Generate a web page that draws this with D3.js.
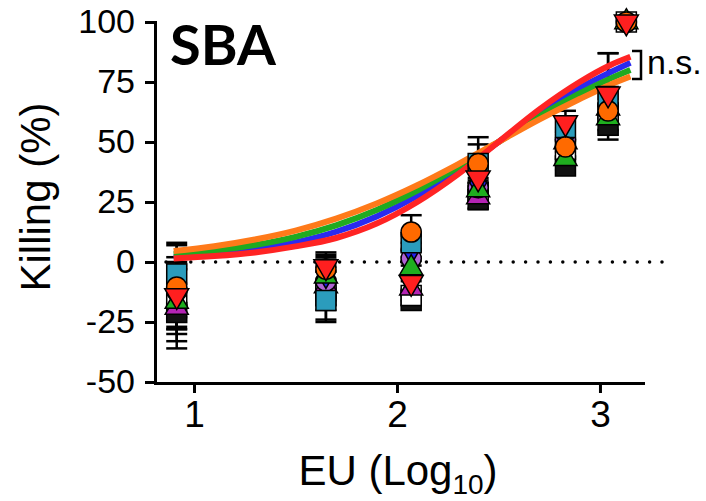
<!DOCTYPE html>
<html>
<head>
<meta charset="utf-8">
<script src="https://cdn.jsdelivr.net/npm/d3@7"></script>
<style>
  body { margin: 0; background: #fff; }
  svg { display: block; }
  text { font-family: "Liberation Sans", Arial, sans-serif; fill: #000; }
</style>
</head>
<body>
<div id="chart"></div>
<script>
var width = 706;
var height = 501;

// log10 EU of each column of points
var doseCols = [0.915, 1.65, 2.07, 2.40, 2.83, 3.04];
var topDose = 3.13;

// mean killing (%) and SEM per series, one entry per column
var tealVals = [-5, -16, 8, 41, 56, 69];
var tealErr = [13, 9, 3, 11, 4, 18];
var orangeVals = [-10.5, -3, 12.5, 41, 48, 63];
var orangeErr = [17.5, 6, 7, 8, 6, 8];
var redVals = [-14, -2, -8.5, 35, 58, 70];
var redErr = [14, 6, 3, 6, 5, 17];
var greenVals = [-16.5, -6, -2.5, 30, 43, 60];
var greenErr = [13.5, 8, 3, 4, 3, 5];
var magentaVals = [-19, -10, -11, 27, 50, 64];
var magentaErr = [17, 8, 3, 4.5, 4, 4];
var blueVals = [-8, -5, 5, 33, 52, 66];
var blueErr = [10, 6, 3, 4, 4, 4];
var lavenderVals = [-12, -8, 1.5, 31, 51, 65];
var lavenderErr = [11, 7, 3, 4, 4, 4];
var whiteVals = [-15, -12, -14, 29, 47, 62];
var whiteErr = [12, 8, 2, 4, 4, 4];
var blackVals = [-21, -14, -16, 26, 40, 57];
var blackErr = [12, 10, 2, 4, 1.5, 3];

// points sitting at 100 % on the far right
var topSeries = ["white", "green", "orange", "red"];
var topVal = 100;

// fitted curves
var curveDose = [0.9, 1.1, 1.3, 1.5, 1.7, 1.9, 2.1, 2.3, 2.5, 2.7, 2.9, 3.05, 3.15];
var redFit = [1.5, 2.5, 4, 6.5, 10, 16, 25, 36.5, 50, 63.5, 75, 82, 85.5];
var blueFit = [2, 3.3, 5.2, 8.2, 12.6, 19, 27.5, 38, 50, 62, 72.5, 79, 83];
var greenFit = [3.2, 4.8, 7.1, 10.5, 15.3, 21.7, 29.8, 39.4, 50, 60.6, 70.2, 76.4, 80];
var orangeFit = [4.6, 6.6, 9.4, 13.1, 18.1, 24.4, 32, 40.7, 50, 59.3, 67.9, 73.9, 77.3];

var yTicks = [-50, -25, 0, 25, 50, 75, 100];
var xTicks = [1, 2, 3];

var colors = {
    teal: "#2b9cbc",
    orange: "#ff6a00",
    red: "#ff1f1f",
    green: "#1fae1f",
    magenta: "#b424b4",
    blue: "#2222ee",
    lavender: "#b064d4",
    white: "#ffffff",
    black: "#111111"
};
var fitColors = { red: "#ff2424", blue: "#2a2af0", green: "#20aa20", orange: "#ff7a1a" };

// series in drawing order (last drawn on top)
var series = [
    { name: "black", shape: "square", vals: blackVals, err: blackErr },
    { name: "white", shape: "square", vals: whiteVals, err: whiteErr },
    { name: "magenta", shape: "up", vals: magentaVals, err: magentaErr },
    { name: "lavender", shape: "circle", vals: lavenderVals, err: lavenderErr },
    { name: "blue", shape: "diamond", vals: blueVals, err: blueErr },
    { name: "green", shape: "up", vals: greenVals, err: greenErr },
    { name: "teal", shape: "square", vals: tealVals, err: tealErr },
    { name: "orange", shape: "circle", vals: orangeVals, err: orangeErr },
    { name: "red", shape: "down", vals: redVals, err: redErr }
];

var xScale = d3.scaleLinear().domain([0.808, 3.212]).range([155, 643]);
var yScale = d3.scaleLinear().domain([-50, 100]).range([382, 22]);

var svg = d3.select("#chart")
    .append("svg")
    .attr("width", width)
    .attr("height", height);

// dotted zero line
svg.append("line")
    .attr("x1", 166).attr("x2", 666)
    .attr("y1", yScale(0)).attr("y2", yScale(0))
    .attr("stroke", "#000")
    .attr("stroke-width", 3.5)
    .attr("stroke-linecap", "round")
    .attr("stroke-dasharray", "0 12.4");

// flatten points
var points = [];
series.forEach(function(s) {
    s.vals.forEach(function(v, i) {
        points.push({ name: s.name, shape: s.shape, x: doseCols[i], y: v, e: s.err[i] });
    });
});
series.forEach(function(s) {
    if (topSeries.indexOf(s.name) >= 0) {
        points.push({ name: s.name, shape: s.shape, x: topDose, y: topVal, e: 0 });
    }
});

// error bars behind everything
var bars = svg.append("g").selectAll("g")
    .data(points.filter(function(d) { return d.e > 0; }))
    .enter().append("g")
    .attr("stroke", "#000")
    .attr("stroke-width", 2.5);
bars.append("line")
    .attr("x1", function(d) { return xScale(d.x); })
    .attr("x2", function(d) { return xScale(d.x); })
    .attr("y1", function(d) { return yScale(d.y + d.e); })
    .attr("y2", function(d) { return yScale(d.y - d.e); });
bars.selectAll("line.cap")
    .data(function(d) { return [d.y + d.e, d.y - d.e].map(function(v) { return { x: d.x, v: v }; }); })
    .enter().append("line")
    .classed("cap", true)
    .attr("x1", function(d) { return xScale(d.x) - 10.5; })
    .attr("x2", function(d) { return xScale(d.x) + 10.5; })
    .attr("y1", function(d) { return yScale(d.v); })
    .attr("y2", function(d) { return yScale(d.v); });

// fitted curves
var line = d3.line()
    .x(function(d) { return xScale(d[0]); })
    .y(function(d) { return yScale(d[1]); })
    .curve(d3.curveMonotoneX);

var fits = [
    { c: fitColors.blue, v: blueFit },
    { c: fitColors.green, v: greenFit },
    { c: fitColors.orange, v: orangeFit },
    { c: fitColors.red, v: redFit }
];
svg.append("g").selectAll("path")
    .data(fits)
    .enter().append("path")
    .attr("fill", "none")
    .attr("stroke", function(d) { return d.c; })
    .attr("stroke-width", 6)
    .attr("d", function(d) { return line(curveDose.map(function(x, i) { return [x, d.v[i]]; })); });

// markers
var symbolFor = {
    square: d3.symbol().type(d3.symbolSquare).size(400),
    circle: d3.symbol().type(d3.symbolCircle).size(320),
    up: d3.symbol().type(d3.symbolTriangle).size(230),
    down: d3.symbol().type(d3.symbolTriangle).size(250),
    diamond: d3.symbol().type(d3.symbolDiamond).size(240)
};
svg.append("g").selectAll("path")
    .data(points)
    .enter().append("path")
    .attr("d", function(d) { return symbolFor[d.shape](); })
    .attr("transform", function(d) {
        return "translate(" + xScale(d.x) + "," + yScale(d.y) + ")" + (d.shape == "down" ? " rotate(180)" : "");
    })
    .attr("fill", function(d) { return colors[d.name]; })
    .attr("stroke", "#000")
    .attr("stroke-width", 1.5);

// y axis
var yAxisG = svg.append("g")
    .attr("transform", "translate(155, 0)")
    .call(d3.axisLeft(yScale).tickValues(yTicks).tickSize(10).tickSizeOuter(0).tickPadding(10)
        .tickFormat(function(d) { return String(d); }));
yAxisG.selectAll("text").style("font-size", "34px").attr("fill", "#000");

// x axis
var xAxisG = svg.append("g")
    .attr("transform", "translate(0, 383)")
    .call(d3.axisBottom(xScale).tickValues(xTicks).tickSize(10).tickSizeOuter(0).tickPadding(8)
        .tickFormat(function(d) { return String(d); }));
xAxisG.selectAll("text").style("font-size", "37px").attr("fill", "#000");

svg.selectAll(".domain, .tick line").attr("stroke", "#000").attr("stroke-width", 3);
svg.selectAll(".domain").attr("stroke-linecap", "square");

// axis titles
svg.append("text")
    .attr("transform", "translate(50, 197) rotate(-90)")
    .attr("text-anchor", "middle")
    .style("font-size", "42px")
    .text("Killing (%)");

var xTitle = svg.append("text")
    .attr("x", 398)
    .attr("y", 485)
    .attr("text-anchor", "middle")
    .style("font-size", "42px");
xTitle.append("tspan").text("EU (Log");
xTitle.append("tspan").attr("dy", 9).style("font-size", "28px").text("10");
xTitle.append("tspan").attr("dy", -9).text(")");

// panel label
svg.append("text")
    .attr("x", 170)
    .attr("y", 65)
    .style("font-family", "Lato, 'Open Sans', sans-serif")
    .style("font-weight", "bold")
    .style("font-size", "56px")
    .text("SBA");

// n.s. bracket
svg.append("path")
    .attr("d", "M632,51 H641 V79 H632")
    .attr("fill", "none")
    .attr("stroke", "#000")
    .attr("stroke-width", 2.5);
svg.append("text")
    .attr("x", 647)
    .attr("y", 74)
    .style("font-size", "34px")
    .text("n.s.");
</script>
</body>
</html>
